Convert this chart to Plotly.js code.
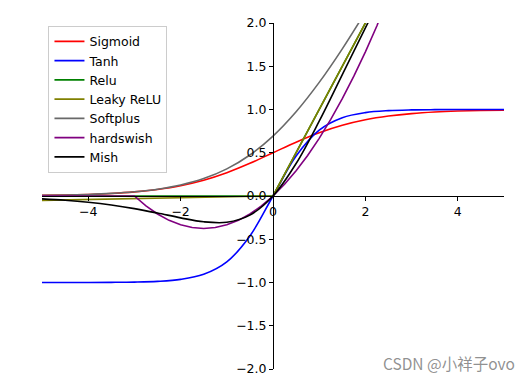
<!DOCTYPE html>
<html>
<head>
<meta charset="utf-8">
<script src="https://cdn.plot.ly/plotly-3.0.1.min.js"></script>
<style>html,body{margin:0;padding:0;background:#fff;}#chart{width:530px;height:383px;}</style>
</head>
<body>
<div id="chart"></div>
<script>
// Sample points (x) and values
const xs = [-5,-4.5,-4,-3.5,-3,-2.5,-2,-1.5,-1,-0.5,0,0.5,1,1.5,2,2.5,3,3.5,4,4.5,5];
const sigmoidY = [0.0067,0.0110,0.0180,0.0293,0.0474,0.0759,0.1192,0.1824,0.2689,0.3775,0.5,0.6225,0.7311,0.8176,0.8808,0.9241,0.9526,0.9707,0.9820,0.9890,0.9933];
const tanhY = [-0.9999,-0.9998,-0.9993,-0.9982,-0.9951,-0.9866,-0.9640,-0.9051,-0.7616,-0.4621,0,0.4621,0.7616,0.9051,0.9640,0.9866,0.9951,0.9982,0.9993,0.9998,0.9999];
const reluX = [-5,0,5];
const reluY = [0,0,5];
const leakyX = [-5,0,5];
const leakyY = [-0.05,0,5];
const softplusY = [0.0067,0.0111,0.0182,0.0298,0.0486,0.0789,0.1269,0.2014,0.3133,0.4741,0.6931,0.9741,1.3133,1.7014,2.1269,2.5789,3.0486,3.5298,4.0182,4.5111,5.0067];
const hswishX = [-5,-3,-2.75,-2.5,-2.25,-2,-1.75,-1.5,-1.25,-1,-0.75,-0.5,-0.25,0,0.25,0.5,0.75,1,1.25,1.5,1.75,2,2.25,2.5,3,5];
const hswishY = [0,0,-0.1146,-0.2083,-0.2813,-0.3333,-0.3646,-0.375,-0.3646,-0.3333,-0.2813,-0.2083,-0.1146,0,0.1354,0.2917,0.4688,0.6667,0.8854,1.125,1.3854,1.6667,1.9688,2.2917,3,5];
const mishY = [-0.0336,-0.0497,-0.0726,-0.1041,-0.1456,-0.1968,-0.2525,-0.2981,-0.3034,-0.2207,0,0.3753,0.8651,1.4033,1.9439,2.4716,2.9866,3.494,3.9974,4.4989,4.9996];

const names = ['Sigmoid','Tanh','Relu','Leaky ReLU','Softplus','hardswish','Mish'];
const colors = ['#ff0000','#0000ff','#008000','#808000','#696969','#800080','#000000'];
const xsets = [xs, xs, reluX, leakyX, xs, hswishX, xs];
const ysets = [sigmoidY, tanhY, reluY, leakyY, softplusY, hswishY, mishY];
const shapes = ['spline','spline','linear','linear','spline','linear','spline'];

const traces = names.map((n,i)=>({
  x: xsets[i], y: ysets[i], name: n, type: 'scatter', mode: 'lines',
  line: {color: colors[i], width: 1.6, shape: shapes[i]}
}));

const font = {family: 'DejaVu Sans, sans-serif', size: 12.5, color: '#000'};
const layout = {
  width: 530, height: 383,
  margin: {l: 41.5, r: 25.5, t: 23, b: 14, pad: 0},
  paper_bgcolor: '#fff', plot_bgcolor: '#fff',
  font: font,
  showlegend: true,
  legend: {
    x: 0.014, y: 0.992, xanchor: 'left', yanchor: 'top',
    bgcolor: 'rgba(255,255,255,0.8)', bordercolor: '#cccccc', borderwidth: 1,
    font: font, itemwidth: 30
  },
  xaxis: {
    range: [-5, 5], anchor: 'free', position: 0.5, domain: [0,1],
    showline: true, linecolor: '#000', linewidth: 1,
    showgrid: false, zeroline: false,
    ticks: 'outside', ticklen: 4, tickwidth: 1, tickcolor: '#000',
    dtick: 2, tick0: 0, automargin: false, tickfont: font, ticklabeloverflow: 'allow'
  },
  yaxis: {
    range: [-2, 2], anchor: 'free', position: 0.5, domain: [0,1],
    showline: true, linecolor: '#000', linewidth: 1,
    showgrid: false, zeroline: false,
    ticks: 'outside', ticklen: 4, tickwidth: 1, tickcolor: '#000',
    dtick: 0.5, tick0: 0, tickformat: '.1f', automargin: false, tickfont: font
  },
  annotations: [{
    text: 'CSDN @小祥子ovo', xref: 'paper', yref: 'paper',
    x: 1.029, y: 0.016, xanchor: 'right', yanchor: 'middle', showarrow: false,
    font: {family: 'Noto Sans CJK SC, DejaVu Sans, sans-serif', size: 15.5, color: 'rgba(125,125,125,0.85)'}
  }]
};

Plotly.newPlot('chart', traces, layout, {displayModeBar: false, staticPlot: true});
</script>
</body>
</html>
